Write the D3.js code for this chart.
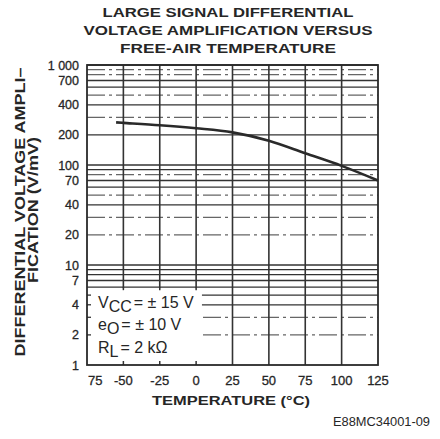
<!DOCTYPE html>
<html>
<head>
<meta charset="utf-8">
<script src="https://cdn.jsdelivr.net/npm/d3@7"></script>
<style>
  body { margin: 0; background: #fff; }
  text { font-family: "Liberation Sans", Arial, sans-serif; fill: #262626; }
</style>
</head>
<body>
<div id="chart"></div>
<script>
// curve
var temps = [-55, -50, -25, 0, 25, 50, 75, 100, 125];
var gain = [267, 264, 250, 233, 212, 175, 131, 98, 70];

// axis ticks
var xTicks = [-75, -50, -25, 0, 25, 50, 75, 100, 125];
var xTickLabels = ["75", "-50", "-25", "0", "25", "50", "75", "100", "125"];
var yTicks = [1, 2, 4, 7, 10, 20, 40, 70, 100, 200, 400, 700, 1000];
var yTickLabels = ["1", "2", "4", "7", "10", "20", "40", "70", "100", "200", "400", "700", "1 000"];

var titleLines = ["LARGE SIGNAL DIFFERENTIAL", "VOLTAGE AMPLIFICATION VERSUS", "FREE-AIR TEMPERATURE"];
var yTitleLines = ["DIFFERENTIAL VOLTAGE AMPLI\u2013", "FICATION (V/mV)"];
var xTitle = "TEMPERATURE (\u00B0C)";
var figCode = "E88MC34001-09";

// scan-faded grid lines, drawn broken
var fadedLines = [900, 800, 500, 300, 80, 50, 30, 20, 3, 2];

var W = 440, H = 439;
// note: "top" is taken by window.top, so use pl/pr/pt/pb
var pl = 87, pr = 378, pt = 65, pb = 365;

var svg = d3.select("#chart")
  .append("svg")
    .attr("width", W)
    .attr("height", H);

var x = d3.scaleLinear().domain([-75, 125]).range([pl, pr]);
var y = d3.scaleLog().domain([1, 1000]).range([pb, pt]);

// log grid values 2..10 per decade
var gridVals = [];
for (var k = 0; k < 3; k++) {
  for (var m = 2; m <= 10; m++) {
    gridVals.push(m * Math.pow(10, k));
  }
}

var grid = svg.append("g");

grid.selectAll(".hgrid")
    .data(gridVals)
  .enter()
    .append("line")
    .attr("x1", pl)
    .attr("x2", pr)
    .attr("y1", function(d) { return y(d); })
    .attr("y2", function(d) { return y(d); })
    .attr("stroke", "#333")
    .attr("stroke-width", 1.3)
    .attr("stroke-dasharray", function(d) {
      return fadedLines.indexOf(d) !== -1 ? "18,4,3,4" : null;
    })
    .attr("opacity", function(d) { return fadedLines.indexOf(d) !== -1 ? 0.75 : 1; });

grid.selectAll(".vgrid")
    .data(xTicks.slice(1, -1))
  .enter()
    .append("line")
    .attr("x1", function(d) { return x(d); })
    .attr("x2", function(d) { return x(d); })
    .attr("y1", pt)
    .attr("y2", pb)
    .attr("stroke", "#333")
    .attr("stroke-width", 1.6);

// blank patch for the conditions note
var boxR = x(4), boxT = y(6);
svg.append("rect")
  .attr("x", pl + 1)
  .attr("y", boxT + 1)
  .attr("width", boxR - pl - 1)
  .attr("height", pb - boxT - 2)
  .attr("fill", "#fff");

// small ticks inside the patch
[2, 3, 4, 5].forEach(function(v) {
  svg.append("line")
    .attr("x1", pl).attr("x2", pl + 4)
    .attr("y1", y(v)).attr("y2", y(v))
    .attr("stroke", "#333").attr("stroke-width", 1.3);
});
[-50, -25, 0].forEach(function(v) {
  svg.append("line")
    .attr("x1", x(v)).attr("x2", x(v))
    .attr("y1", pb).attr("y2", pb - 4)
    .attr("stroke", "#333").attr("stroke-width", 1.5);
  svg.append("line")
    .attr("x1", x(v)).attr("x2", x(v))
    .attr("y1", boxT).attr("y2", boxT + 3)
    .attr("stroke", "#333").attr("stroke-width", 1.5);
});

// frame
svg.append("rect")
  .attr("x", pl)
  .attr("y", pt)
  .attr("width", pr - pl)
  .attr("height", pb - pt)
  .attr("fill", "none")
  .attr("stroke", "#2a2a2a")
  .attr("stroke-width", 1.8);

// the curve
var line = d3.line()
  .x(function(d, i) { return x(temps[i]); })
  .y(function(d) { return y(d); })
  .curve(d3.curveCatmullRom);

svg.append("path")
  .datum(gain)
  .attr("d", line)
  .attr("fill", "none")
  .attr("stroke", "#2a2a2a")
  .attr("stroke-width", 2.6);

// tick labels
svg.selectAll(".ylab")
    .data(yTicks)
  .enter()
    .append("text")
    .attr("x", 79)
    .attr("y", function(d) { return y(d); })
    .attr("dy", "0.36em")
    .attr("text-anchor", "end")
    .attr("font-size", 12.5)
    .attr("stroke", "#262626")
    .attr("stroke-width", 0.3)
    .text(function(d, i) { return yTickLabels[i]; });

svg.selectAll(".xlab")
    .data(xTicks)
  .enter()
    .append("text")
    .attr("x", function(d, i) { return i === 0 ? x(d) + 1 : x(d); })
    .attr("y", 385)
    .attr("text-anchor", function(d, i) { return i === 0 ? "start" : "middle"; })
    .attr("font-size", 13)
    .attr("stroke", "#262626")
    .attr("stroke-width", 0.3)
    .text(function(d, i) { return xTickLabels[i]; });

// title
var titleW = [251, 289, 216];
svg.selectAll(".title")
    .data(titleLines)
  .enter()
    .append("text")
    .attr("x", 228)
    .attr("y", function(d, i) { return 17 + i * 17.8; })
    .attr("text-anchor", "middle")
    .attr("font-size", 12.5)
    .attr("font-weight", "bold")
    .attr("fill", "#333")
    .attr("textLength", function(d, i) { return titleW[i]; })
    .attr("lengthAdjust", "spacingAndGlyphs")
    .text(function(d) { return d; });

// y title, rotated
var yTitlePos = [{bx: 25, c: 212, len: 289}, {bx: 38, c: 210, len: 146}];
svg.selectAll(".ytitle")
    .data(yTitleLines)
  .enter()
    .append("text")
    .attr("transform", function(d, i) {
      return "translate(" + yTitlePos[i].bx + "," + yTitlePos[i].c + ") rotate(-90)";
    })
    .attr("text-anchor", "middle")
    .attr("font-size", 14)
    .attr("font-weight", "bold")
    .attr("fill", "#333")
    .attr("textLength", function(d, i) { return yTitlePos[i].len; })
    .attr("lengthAdjust", "spacingAndGlyphs")
    .text(function(d) { return d; });

// x title
svg.append("text")
  .attr("x", 231)
  .attr("y", 405)
  .attr("text-anchor", "middle")
  .attr("font-size", 13)
  .attr("font-weight", "bold")
  .attr("fill", "#333")
  .attr("textLength", 158)
  .attr("lengthAdjust", "spacingAndGlyphs")
  .text(xTitle);

svg.append("text")
  .attr("x", 430)
  .attr("y", 426)
  .attr("text-anchor", "end")
  .attr("font-size", 12)
  .attr("fill", "#555")
  .attr("textLength", 97)
  .attr("lengthAdjust", "spacingAndGlyphs")
  .text(figCode);

// test conditions note
var notes = [
  {main: "V", sub: "CC", rest: "= \u00B1 15 V", base: 308},
  {main: "e", sub: "O", rest: "= \u00B1 10 V", base: 330},
  {main: "R", sub: "L", rest: "= 2 k\u03A9", base: 353}
];
notes.forEach(function(n) {
  var t = svg.append("text")
    .attr("x", 98)
    .attr("y", n.base)
    .attr("font-size", 16);
  t.append("tspan").text(n.main);
  t.append("tspan").attr("dy", 4).text(n.sub);
  t.append("tspan").attr("dy", -4).attr("dx", 2).text(n.rest);
});
</script>
</body>
</html>
